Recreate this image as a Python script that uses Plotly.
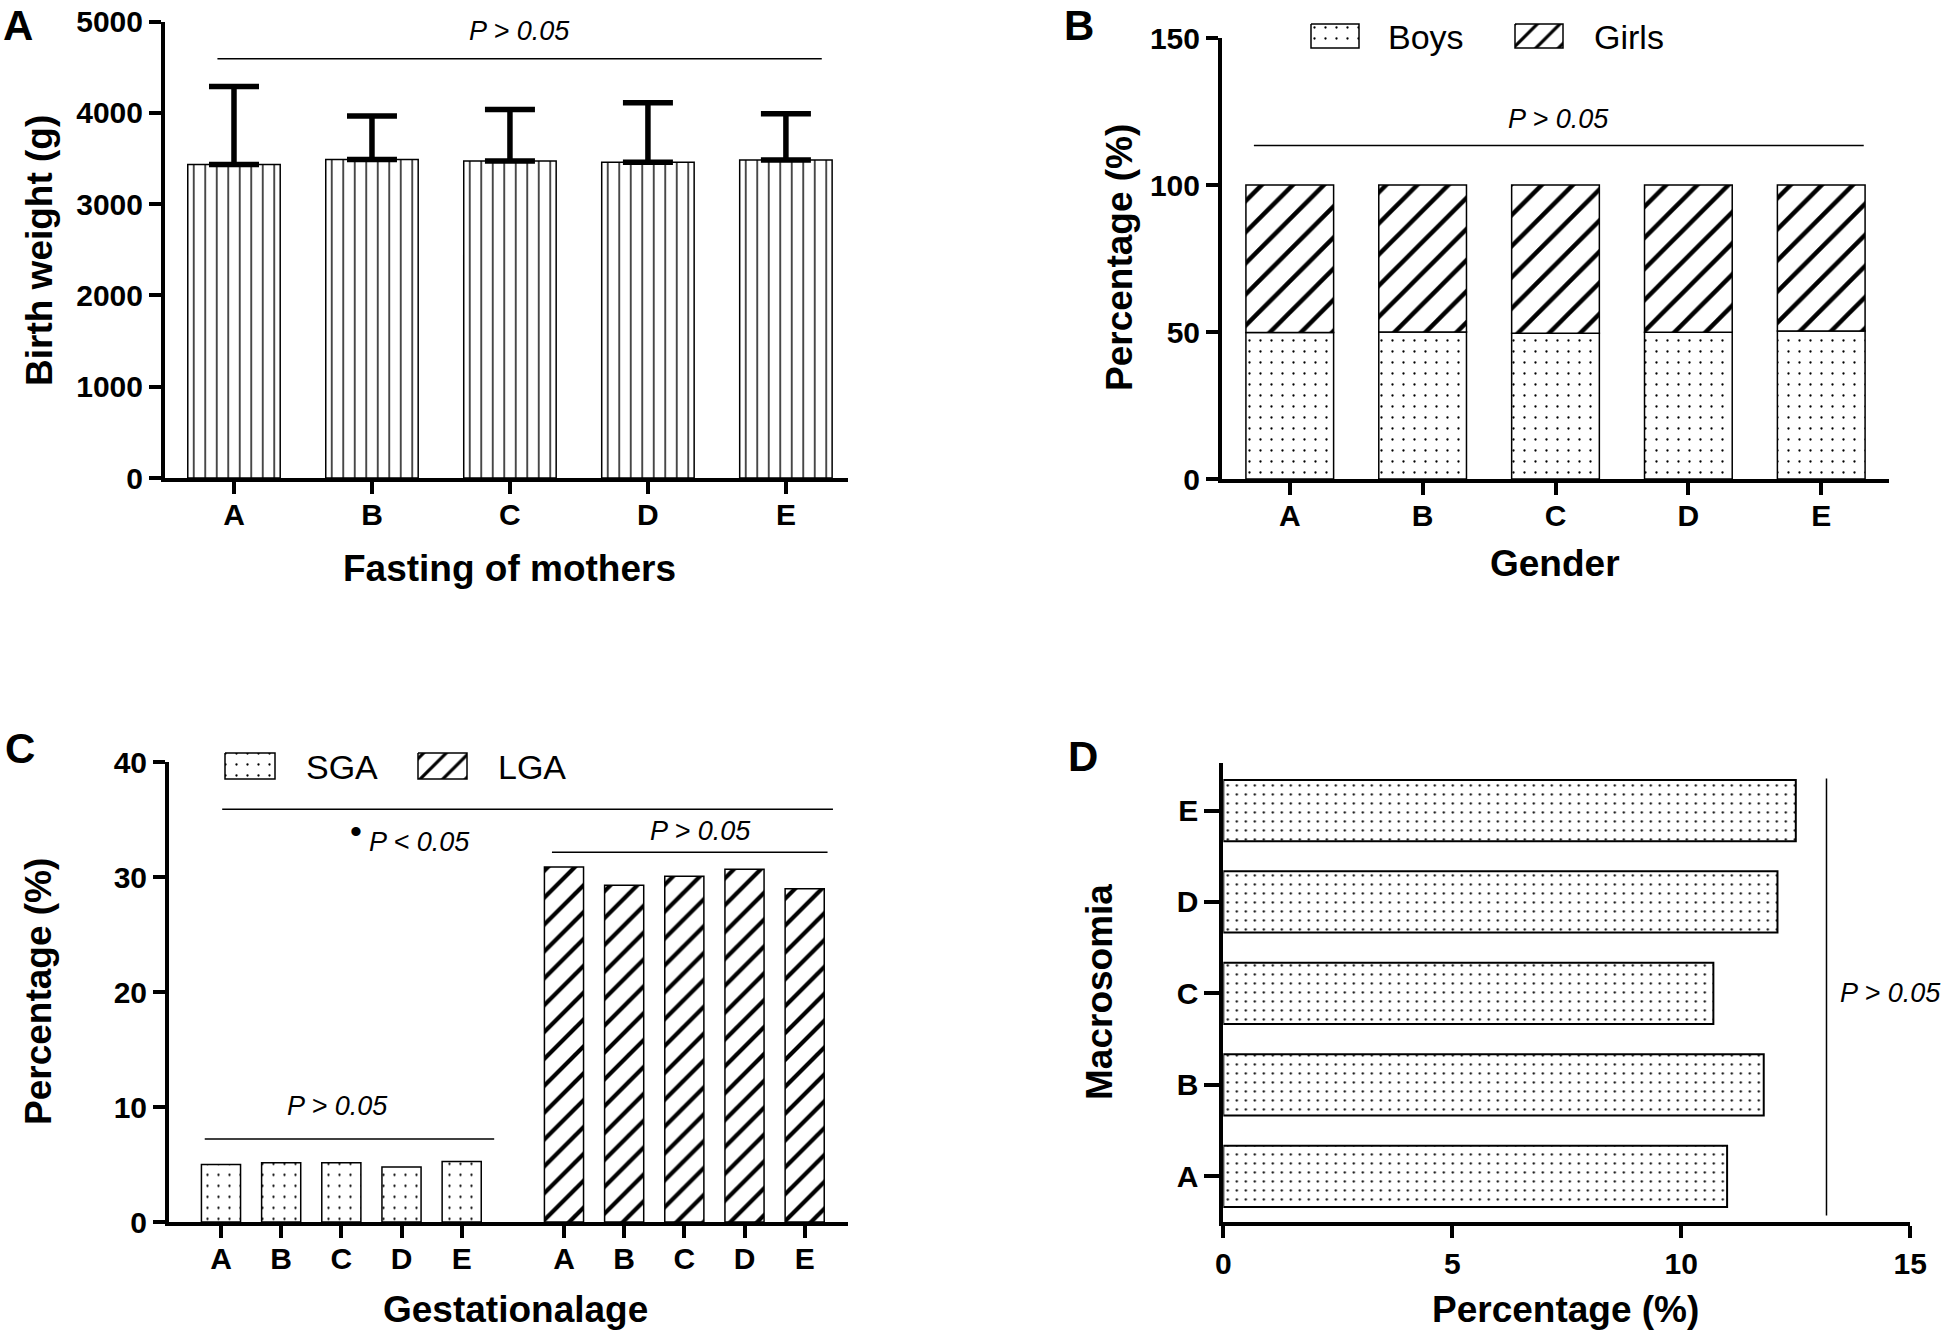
import plotly.graph_objects as go

W, H = 1946, 1336

# ---------------- data ----------------
groups = ["A", "B", "C", "D", "E"]

birth_weight_mean = [3435, 3490, 3473, 3460, 3485]
birth_weight_sd = [855, 477, 565, 653, 507]

boys_pct = [49.8, 50.0, 49.6, 49.9, 50.3]
girls_pct = [50.2, 50.0, 50.4, 50.1, 49.7]

sga_pct = [5.0, 5.16, 5.16, 4.79, 5.26]
lga_pct = [30.9, 29.3, 30.1, 30.7, 29.0]

macrosomia_pct = [11.0, 11.8, 10.7, 12.1, 12.5]

ticks_a = [0, 1000, 2000, 3000, 4000, 5000]
ticks_b = [0, 50, 100, 150]
ticks_c = [0, 10, 20, 30, 40]
ticks_d = [0, 5, 10, 15]

# ---------------- layout helpers ----------------
FONT = "Liberation Sans, Arial, Helvetica, sans-serif"


def xd(a, b):
    return [a / W, b / W]


def yd(top, bottom):
    return [1 - bottom / H, 1 - top / H]


# C panel: two groups of bars with a wider gap between them
GAP_C = 5.7
sga_x = list(range(len(groups)))
lga_x = [i + GAP_C for i in range(len(groups))]

axis_common = dict(
    showline=True, linecolor="black", linewidth=4,
    ticks="outside", ticklen=12, tickwidth=4, tickcolor="black",
    showgrid=False, zeroline=False, fixedrange=True, automargin=False,
    ticklabeloverflow="allow",
    tickfont=dict(family=FONT, size=30, color="black", weight="bold"),
)

fig = go.Figure()


def pat(shape, size, solidity):
    return dict(shape=shape, size=size, solidity=solidity,
                fgcolor="black", bgcolor="white", fillmode="replace")


# ---- Panel A ----
fig.add_trace(go.Bar(
    x=groups, y=birth_weight_mean, width=0.67, xaxis="x", yaxis="y",
    marker=dict(color="white", line=dict(color="black", width=1.5),
                pattern=pat("|", 11.5, 0.12)),
    error_y=dict(type="data", array=birth_weight_sd, symmetric=False,
                 arrayminus=[0] * len(groups), color="black",
                 thickness=5.5, width=25),
))

# ---- Panel B ----
fig.add_trace(go.Bar(
    x=groups, y=boys_pct, width=0.66, xaxis="x2", yaxis="y2", name="Boys",
    marker=dict(color="white", line=dict(color="black", width=1.5),
                pattern=pat(".", 11, 0.035)),
))
fig.add_trace(go.Bar(
    x=groups, y=girls_pct, base=boys_pct, width=0.66, xaxis="x2", yaxis="y2",
    name="Girls",
    marker=dict(color="white", line=dict(color="black", width=1.5),
                pattern=pat("/", 22, 0.2)),
))

# ---- Panel C ----
fig.add_trace(go.Bar(
    x=sga_x, y=sga_pct, width=0.65, xaxis="x3", yaxis="y3", name="SGA",
    marker=dict(color="white", line=dict(color="black", width=1.5),
                pattern=pat(".", 11, 0.035)),
))
fig.add_trace(go.Bar(
    x=lga_x, y=lga_pct, width=0.65, xaxis="x3", yaxis="y3", name="LGA",
    marker=dict(color="white", line=dict(color="black", width=1.5),
                pattern=pat("/", 19, 0.22)),
))

# ---- Panel D ----
fig.add_trace(go.Bar(
    y=groups, x=macrosomia_pct, width=0.67, orientation="h",
    xaxis="x4", yaxis="y4",
    marker=dict(color="white", line=dict(color="black", width=2),
                pattern=pat(".", 9, 0.05)),
))

# ---- legend keys (overlay axis in page-pixel units) ----
legend_keys = [
    # (x0, x1, y_top, y_bottom, shape, size, solidity)
    (1311, 1359, 24, 48, ".", 11, 0.035),
    (1515, 1563, 24, 48, "/", 16, 0.2),
    (225, 275, 753, 779, ".", 11, 0.035),
    (418, 467, 753, 779, "/", 16, 0.2),
]
for x0, x1, y0, y1, shp, sz, sol in legend_keys:
    fig.add_trace(go.Scatter(
        x=[x0, x1, x1, x0, x0], y=[y0, y0, y1, y1, y0],
        xaxis="x5", yaxis="y5", mode="lines", fill="toself",
        fillcolor="white", fillpattern=pat(shp, sz, sol),
        line=dict(color="black", width=1.5), hoverinfo="skip",
    ))

xtick_shift = dict(ticklabelstandoff=-5)

fig.update_layout(
    width=W, height=H, margin=dict(l=0, r=0, t=0, b=0, pad=0),
    autosize=False,
    paper_bgcolor="white", plot_bgcolor="rgba(0,0,0,0)",
    showlegend=False, barmode="overlay",
    font=dict(family=FONT, color="black"),
    xaxis=dict(axis_common, **xtick_shift, domain=xd(165, 848),
               range=[-0.5, 4.45], type="category", categoryorder="array",
               categoryarray=groups, anchor="y"),
    yaxis=dict(axis_common, domain=yd(21.7, 478), range=[0, 5000],
               tickvals=ticks_a, anchor="x"),
    xaxis2=dict(axis_common, **xtick_shift, domain=xd(1222, 1889),
                range=[-0.51, 4.51], type="category", categoryorder="array",
                categoryarray=groups, anchor="y2"),
    yaxis2=dict(axis_common, domain=yd(38, 479), range=[0, 150],
                tickvals=ticks_b, anchor="x2"),
    xaxis3=dict(axis_common, **xtick_shift, domain=xd(169, 848),
                range=[-0.864, 10.42], tickvals=sga_x + lga_x,
                ticktext=groups + groups, anchor="y3"),
    yaxis3=dict(axis_common, domain=yd(762.4, 1222), range=[0, 40],
                tickvals=ticks_c, anchor="x3"),
    xaxis4=dict(axis_common, domain=xd(1223.3, 1910.3), range=[0, 15],
                tickvals=ticks_d, anchor="y4"),
    yaxis4=dict(axis_common, domain=yd(763, 1222), range=[-0.5, 4.52],
                type="category", categoryorder="array", categoryarray=groups,
                ticklen=15, anchor="x4"),
    xaxis5=dict(domain=[0, 1], range=[0, W], visible=False,
                fixedrange=True, automargin=False, anchor="y5"),
    yaxis5=dict(domain=[0, 1], range=[H, 0], visible=False,
                fixedrange=True, automargin=False, anchor="x5"),
)

# ---- significance lines ----
sig_lines = [
    # (xref, yref, x0, x1, y0, y1)
    ("x", "y", -0.12, 4.26, 4594, 4594),
    ("x2", "y2", -0.27, 4.32, 113.4, 113.4),
    ("x3", "y3", 0.02, 10.17, 35.93, 35.93),
    ("x3", "y3", 5.5, 10.08, 32.17, 32.17),
    ("x3", "y3", -0.27, 4.54, 7.23, 7.23),
    ("x4", "y4", 13.17, 13.17, -0.43, 4.35),
]
for xr, yr, x0, x1, y0, y1 in sig_lines:
    fig.add_shape(type="line", xref=xr, yref=yr, x0=x0, x1=x1, y0=y0, y1=y1,
                  line=dict(color="black", width=1.5))

# ---- p-value texts ----
p_font = dict(family=FONT, size=27, color="black", style="italic")
p_texts = [
    ("x", "y", 2.07, 4895, "P > 0.05"),
    ("x2", "y2", 2.02, 122.3, "P > 0.05"),
    ("x3", "y3", 1.94, 10.1, "P > 0.05"),
    ("x3", "y3", 7.97, 34.0, "P > 0.05"),
    ("x3", "y3", 3.30, 33.07, "P < 0.05"),
    ("x4", "y4", 14.57, 2, "P > 0.05"),
]
for xr, yr, x, y, t in p_texts:
    fig.add_annotation(xref=xr, yref=yr, x=x, y=y, text=t, showarrow=False,
                       font=p_font, xanchor="center", yanchor="middle")
fig.add_annotation(xref="x3", yref="y3", x=2.24, y=34.0, text="•",
                   showarrow=False, font=dict(family=FONT, size=34, color="black"),
                   xanchor="center", yanchor="middle")


# ---- axis titles, panel letters, legend labels (paper coords) ----
def ann(px, py, text, size, bold=True, angle=0, xanchor="center",
        yanchor="middle"):
    fig.add_annotation(
        xref="paper", yref="paper", x=px / W, y=1 - py / H,
        text=text, showarrow=False, textangle=angle, xanchor=xanchor,
        yanchor=yanchor,
        font=dict(family=FONT, size=size, color="black",
                  weight="bold" if bold else "normal"))


title_size = 37
ann(39, 251, "Birth weight (g)", title_size, angle=-90)
ann(509.5, 568, "Fasting of mothers", title_size)
ann(1120, 258, "Percentage (%)", title_size, angle=-90)
ann(1555, 564, "Gender", title_size)
ann(38, 992, "Percentage (%)", title_size, angle=-90)
ann(515.7, 1309, "Gestationalage", title_size)
ann(1099, 992, "Macrosomia", title_size, angle=-90)
ann(1565.6, 1309, "Percentage (%)", title_size)

ann(18, 0, "A", 42, yanchor="top")
ann(1079, 0, "B", 42, yanchor="top")
ann(20, 748, "C", 42)
ann(1082.6, 756, "D", 42)

ann(1386, 37, "Boys", 34, bold=False, xanchor="left")
ann(1592, 37, "Girls", 34, bold=False, xanchor="left")
ann(303.5, 767, "SGA", 34, bold=False, xanchor="left")
ann(496, 767, "LGA", 34, bold=False, xanchor="left")

# the page has no body margin, so figure pixels equal page pixels
fig.write_html(
    "out.html",
    config={"displayModeBar": False},
    post_script="document.body.style.margin='0px';"
                "document.documentElement.style.margin='0px';",
)
